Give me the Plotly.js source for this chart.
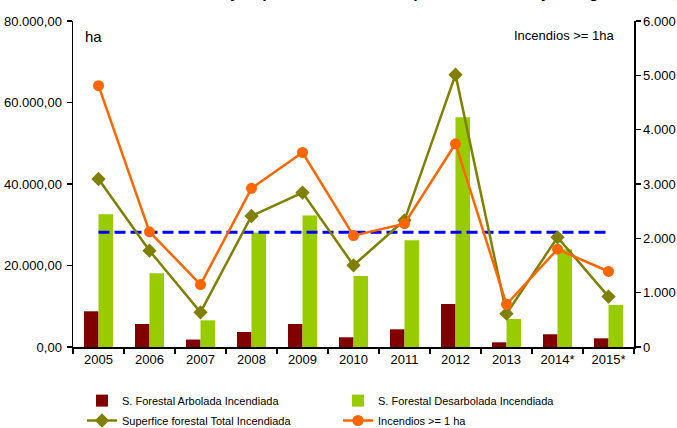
<!DOCTYPE html>
<html>
<head>
<meta charset="utf-8">
<script src="https://cdn.plot.ly/plotly-3.0.1.min.js"></script>
<style>html,body{margin:0;padding:0;background:#fff;}#chart{width:677px;height:428px;}</style>
</head>
<body>
<div id="chart"></div>
<script>
const years = ['2005','2006','2007','2008','2009','2010','2011','2012','2013','2014*','2015*'];
const arbolada = [8760, 5640, 1820, 3680, 5640, 2380, 4340, 10550, 1150, 3120, 2130];
const desarbolada = [32560, 18080, 6550, 28100, 32240, 17420, 26180, 56370, 6870, 23970, 10300];
const totalHa = [41230, 23650, 8510, 32150, 37890, 20050, 31090, 66840, 8190, 26920, 12370];
const incendios = [4810, 2120, 1150, 2920, 3580, 2050, 2270, 3740, 785, 1800, 1390];
const mediaHa = 28150;

const FONT = '"Liberation Sans", Arial, sans-serif';

const traces = [
  {type:'bar', name:'S. Forestal Arbolada Incendiada', x:years, y:arbolada,
   marker:{color:'#800000'}, yaxis:'y', legend:'legend'},
  {type:'bar', name:'S. Forestal Desarbolada Incendiada', x:years, y:desarbolada,
   marker:{color:'#99CC00'}, yaxis:'y', legend:'legend'},
  {type:'scatter', mode:'lines', name:'media', showlegend:false, x:years,
   y:years.map(() => mediaHa), line:{color:'#0000FF', width:3, dash:'11px,5px'}, yaxis:'y'},
  {type:'scatter', mode:'lines+markers', name:'Superfice forestal Total Incendiada', x:years, y:totalHa,
   line:{color:'#808000', width:2.5}, marker:{symbol:'diamond', size:11, color:'#808000'}, yaxis:'y', legend:'legend2'},
  {type:'scatter', mode:'lines+markers', name:'Incendios >= 1 ha', x:years, y:incendios,
   line:{color:'#FF6600', width:2.5}, marker:{symbol:'circle', size:11, color:'#FF6600'}, yaxis:'y2', legend:'legend2'}
];

const legendCommon = {orientation:'h', xanchor:'left', yanchor:'top',
  entrywidth:211, entrywidthmode:'pixels', font:{size:11}, traceorder:'normal',
  bgcolor:'rgba(0,0,0,0)', borderwidth:0};

const layout = {
  width:677, height:428,
  margin:{l:73, r:43, t:21, b:81, autoexpand:false},
  paper_bgcolor:'#fff', plot_bgcolor:'#fff',
  separators:',.',
  font:{family:FONT, size:13, color:'#000'},
  showlegend:true,
  barmode:'group', bargap:0.43, bargroupgap:0,
  xaxis:{type:'category', range:[-0.5, 10.5], showline:true, linecolor:'#000', linewidth:1.5,
    ticks:'outside', tickson:'boundaries', ticklen:5, tickcolor:'#000', tickwidth:1.5,
    showgrid:false, zeroline:false, tickfont:{size:13}},
  yaxis:{range:[0,80000], dtick:20000, tickformat:',.2f', showline:true, linecolor:'#000', linewidth:1.5,
    ticks:'outside', ticklen:5, tickcolor:'#000', tickwidth:1.5, showgrid:false, zeroline:false,
    ticklabelstandoff:2, tickfont:{size:13}},
  yaxis2:{range:[0,6000], dtick:1000, tickformat:',d', overlaying:'y', side:'right', showline:true,
    linecolor:'#000', linewidth:1.5, ticks:'outside', ticklen:5, tickcolor:'#000', tickwidth:1.5,
    showgrid:false, zeroline:false, tickfont:{size:13}},
  legend:Object.assign({}, legendCommon, {x:0.016, y:-0.12}),
  legend2:Object.assign({}, legendCommon, {x:0.016, y:-0.181}),
  annotations:[
    {text:'ha', xref:'paper', yref:'paper', x:0.018, y:0.985, xanchor:'left', yanchor:'top',
     showarrow:false, font:{size:15}},
    {text:'Incendios >= 1ha', xref:'paper', yref:'paper', x:0.97, y:0.985, xanchor:'right', yanchor:'top',
     showarrow:false, font:{size:13}},
    {text:'<b>Incendios forestales y superficie incendiada (Nº incendios mayor o igual a 1 ha y +)</b>',
     xref:'paper', yref:'paper', x:0.56, y:1.055, xanchor:'center', yanchor:'bottom',
     showarrow:false, font:{size:16}}
  ]
};

Plotly.newPlot('chart', traces, layout, {displayModeBar:false, staticPlot:true});
</script>
</body>
</html>
